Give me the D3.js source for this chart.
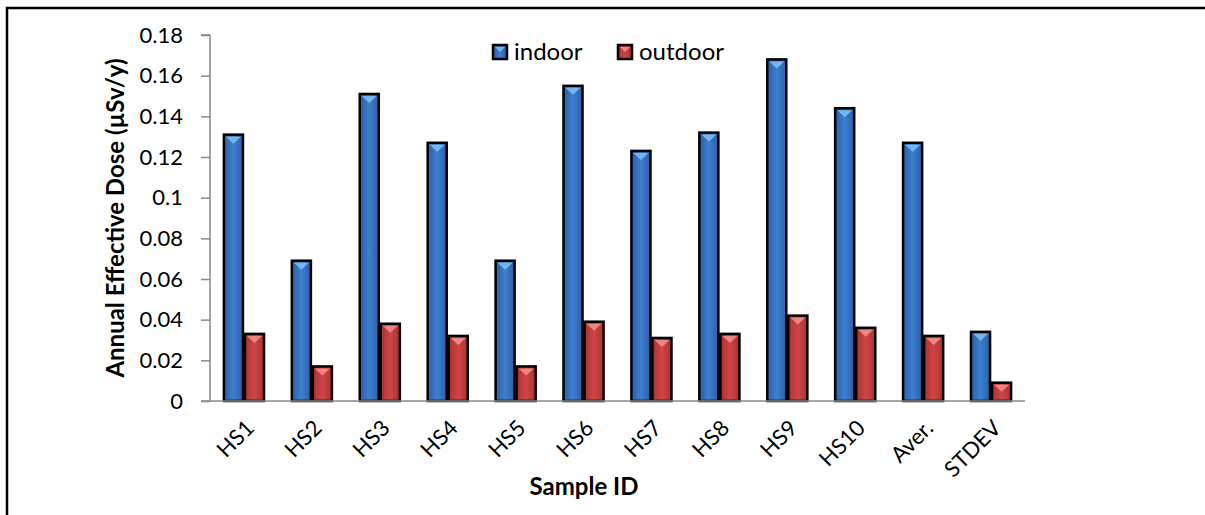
<!DOCTYPE html>
<html><head><meta charset="utf-8">
<script src="https://cdn.jsdelivr.net/npm/d3@7"></script>
<style>body{margin:0;background:#fff}svg{display:block}</style>
</head><body><svg id="c" width="1205" height="515"></svg>
<script>
const categories = ["HS1","HS2","HS3","HS4","HS5","HS6","HS7","HS8","HS9","HS10","Aver.","STDEV"];
const indoor  = [0.131,0.069,0.151,0.127,0.069,0.155,0.123,0.132,0.168,0.144,0.127,0.034];
const outdoor = [0.033,0.017,0.038,0.032,0.017,0.039,0.031,0.033,0.042,0.036,0.032,0.009];
const seriesNames = ["indoor","outdoor"];
const yTicks = [0,0.02,0.04,0.06,0.08,0.1,0.12,0.14,0.16,0.18];

(function(){
const svg = d3.select("#c");
const font = "Lato, 'Open Sans', sans-serif";
const pLeft = 210, pRight = 1025, pTop = 35, pBottom = 401;

// outer border
svg.append("rect").attr("x",7).attr("y",8).attr("width",1205).attr("height",520)
  .attr("fill","none").attr("stroke","#000").attr("stroke-width",2.5);

const defs = svg.append("defs");
function grad(id, edge, mid){
  const g = defs.append("linearGradient").attr("id",id).attr("x1","0").attr("x2","1").attr("y1","0").attr("y2","0");
  g.append("stop").attr("offset","0%").attr("stop-color",edge);
  g.append("stop").attr("offset","50%").attr("stop-color",mid);
  g.append("stop").attr("offset","100%").attr("stop-color",edge);
}
grad("gBlue","#2c5ea6","#3d7fd0");
grad("gRed","#a83232","#d04444");
const colors = {indoor:{fill:"url(#gBlue)",hi:"#7fc0f5"}, outdoor:{fill:"url(#gRed)",hi:"#f59090"}};

const x0 = d3.scaleBand().domain(categories).range([pLeft,pRight]).paddingInner(0.38).paddingOuter(0.19);
const x1 = d3.scaleBand().domain(seriesNames).range([0,x0.bandwidth()]);
const y = d3.scaleLinear().domain([0,0.18]).range([pBottom,pTop]);

// y axis
const yAxis = d3.axisLeft(y).tickValues(yTicks).tickSize(9).tickPadding(18)
  .tickFormat(d => d===0 ? "0" : String(+d.toFixed(2)));
const gy = svg.append("g").attr("transform",`translate(${pLeft},0)`).call(yAxis);
gy.select(".domain").attr("stroke","#888").attr("stroke-width",1.5).attr("d",`M-9,${pTop}H0V${pBottom}`);
gy.selectAll(".tick line").attr("stroke","#888").attr("stroke-width",1.5);
gy.selectAll("text").attr("font-family",font).attr("font-size",22).attr("fill","#000");

const data = categories.map((c,i)=>({c, indoor:indoor[i], outdoor:outdoor[i]}));

const groups = svg.append("g").selectAll("g").data(data).join("g")
  .attr("transform",d=>`translate(${x0(d.c)},0)`);
groups.selectAll("g.bar").data(d=>seriesNames.map(k=>({k,v:d[k]}))).join("g").attr("class","bar")
  .each(function(d){
    const g = d3.select(this);
    const bx = x1(d.k)+1, bw = x1.bandwidth()-2, by = y(d.v), bh = pBottom - y(d.v);
    g.append("rect").attr("x",bx).attr("y",by).attr("width",bw).attr("height",bh)
      .attr("fill",colors[d.k].fill).attr("stroke","#000").attr("stroke-width",2.5);
    g.append("path").attr("d",`M${bx+2},${by+2}H${bx+bw-2}L${bx+bw/2},${by+9}Z`)
      .attr("fill",colors[d.k].hi).attr("opacity",0.85);
  });

// x axis
svg.append("line").attr("x1",pLeft-9).attr("x2",pRight).attr("y1",pBottom).attr("y2",pBottom)
  .attr("stroke","#888").attr("stroke-width",1.5);
const xAxis = d3.axisBottom(x0).tickSize(0).tickPadding(0);
const gx = svg.append("g").attr("transform",`translate(0,${pBottom})`).call(xAxis);
gx.select(".domain").remove();
gx.selectAll("text").attr("font-family",font).attr("font-size",22).attr("fill","#000")
  .attr("text-anchor","end").attr("dy","0.35em")
  .attr("transform","translate(6,23) rotate(-45)");

// axis titles
svg.append("text").attr("transform",`translate(124,${(pTop+pBottom)/2}) rotate(-90)`)
  .attr("text-anchor","middle").attr("font-family",font).attr("font-weight","bold").attr("font-size",24)
  .text("Annual Effective Dose (µSv/y)");
svg.append("text").attr("x",584).attr("y",495).attr("text-anchor","middle")
  .attr("font-family",font).attr("font-weight","bold").attr("font-size",24).text("Sample ID");

// legend
const leg = svg.append("g");
const legX = [492,617];
seriesNames.forEach((s,i)=>{
  const lg = leg.append("g").attr("transform",`translate(${legX[i]},44)`);
  lg.append("rect").attr("x",1).attr("y",1).attr("width",14).attr("height",14)
    .attr("fill",colors[s].fill).attr("stroke","#000").attr("stroke-width",2.5);
  lg.append("path").attr("d","M3,3H13L8,8Z").attr("fill",colors[s].hi).attr("opacity",0.85);
  lg.append("text").attr("x",22).attr("y",8).attr("dy","0.35em").attr("font-family",font)
    .attr("font-size",24).text(s);
});
})();
</script></body></html>
